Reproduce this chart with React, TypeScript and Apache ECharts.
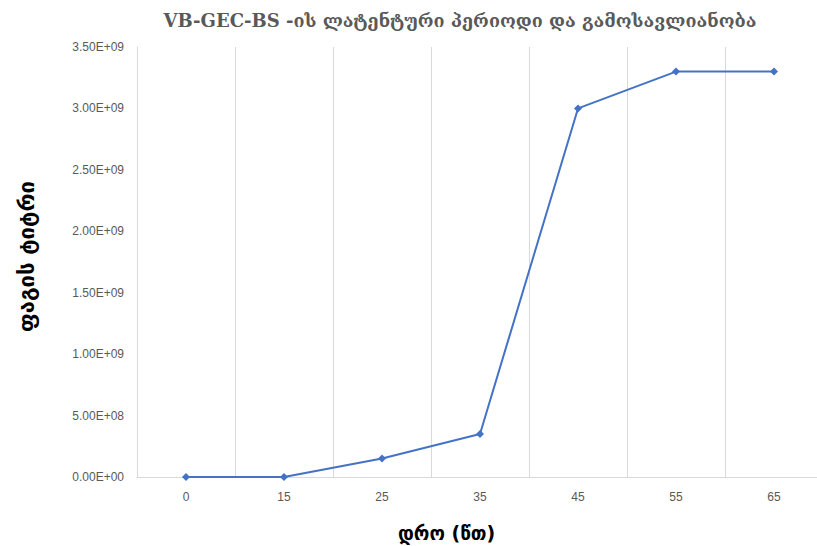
import React, { useEffect, useRef } from "react";
import * as echarts from "echarts";

const titleText = "VB-GEC-BS -ის ლატენტური პერიოდი და გამოსავლიანობა";
const xAxisTitle = "დრო (წთ)";
const yAxisTitle = "ფაგის ტიტრი";
const categories = ["0", "15", "25", "35", "45", "55", "65"];
const titerValues = [0, 0, 1.5e8, 3.5e8, 3.0e9, 3.3e9, 3.3e9];

function sci(v: number): string {
  const [m, e] = v.toExponential(2).split("e");
  const sign = e[0];
  const digits = e.slice(1).padStart(2, "0");
  return `${m}E${sign}${digits}`;
}

export default function App() {
  const ref = useRef<HTMLDivElement>(null);
  useEffect(() => {
    if (!ref.current) return;
    const chart = echarts.init(ref.current, null, { renderer: "svg" });
    chart.setOption({
      animation: false,
      backgroundColor: "#ffffff",
      title: {
        text: titleText,
        left: 455,
        top: 6,
        textAlign: "center",
        textStyle: {
          fontFamily: "DejaVu Serif",
          fontSize: 18,
          fontWeight: "bold",
          color: "#595959",
        },
      },
      grid: { left: 137, top: 47, bottom: 69, right: 0, containLabel: false },
      graphic: [
        {
          type: "text",
          left: 398,
          top: 523,
          style: {
            text: xAxisTitle,
            fontFamily: "DejaVu Sans",
            fontSize: 19,
            fontWeight: "bold",
            fill: "#000000",
          },
        },
        {
          type: "text",
          x: 15,
          y: 332,
          rotation: Math.PI / 2,
          style: {
            text: yAxisTitle,
            fontFamily: "DejaVu Sans",
            fontSize: 22,
            fontWeight: "bold",
            fill: "#000000",
          },
        },
      ],
      xAxis: {
        type: "category",
        data: categories,
        boundaryGap: true,
        axisLine: { show: true, lineStyle: { color: "#d9d9d9", width: 1 } },
        axisTick: { show: false },
        axisLabel: {
          color: "#595959",
          fontFamily: "Liberation Sans",
          fontSize: 12,
          margin: 14,
        },
        splitLine: { show: true, lineStyle: { color: "#d9d9d9", width: 1 } },
      },
      yAxis: {
        type: "value",
        min: 0,
        max: 3.5e9,
        interval: 5e8,
        axisLine: { show: true, lineStyle: { color: "#d9d9d9", width: 1 } },
        axisTick: { show: false },
        splitLine: { show: false },
        axisLabel: {
          color: "#595959",
          fontFamily: "Liberation Sans",
          fontSize: 12,
          margin: 13,
          formatter: (v: number) => sci(v),
        },
      },
      series: [
        {
          type: "line",
          data: titerValues,
          symbol: "diamond",
          symbolSize: 8,
          itemStyle: { color: "#4472C4" },
          lineStyle: { color: "#4472C4", width: 2 },
        },
      ],
    });
    return () => chart.dispose();
  }, []);
  return (
    <div
      ref={ref}
      style={{ position: "fixed", left: 0, top: 0, width: 823, height: 546 }}
    />
  );
}
